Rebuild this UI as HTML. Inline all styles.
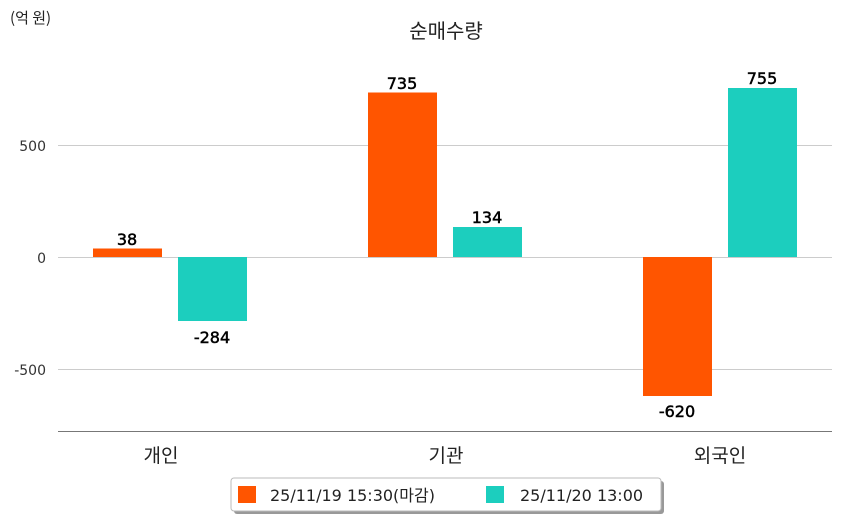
<!DOCTYPE html>
<html><head><meta charset="utf-8"><style>
html,body{margin:0;padding:0;background:#fff;}
svg{display:block;font-family:"DejaVu Sans","Noto Sans CJK KR",sans-serif;}
.k{font-family:"Noto Sans CJK KR","DejaVu Sans",sans-serif;}
</style></head><body>
<svg width="842" height="520" viewBox="0 0 842 520" xmlns="http://www.w3.org/2000/svg">
<text class="k" x="10" y="23" font-size="15" fill="#222">(억 원)</text>
<text class="k" x="446" y="38" font-size="20" fill="#222" text-anchor="middle">순매수량</text>
<g stroke="#cccccc" stroke-width="1">
<line x1="58" y1="145.5" x2="832" y2="145.5"/>
<line x1="58" y1="257.5" x2="832" y2="257.5"/>
<line x1="58" y1="369.5" x2="832" y2="369.5"/>
</g>
<line x1="58" y1="431.5" x2="832" y2="431.5" stroke="#777" stroke-width="1"/>
<g font-size="14" fill="#333" text-anchor="end">
<text x="46" y="151">500</text>
<text x="46" y="263">0</text>
<text x="46" y="375">-500</text>
</g>
<g fill="#FF5500">
<rect x="93" y="248.5" width="69" height="8.5"/>
<rect x="368" y="92.5" width="69" height="164.5"/>
<rect x="643" y="257" width="69" height="139"/>
</g>
<g fill="#1CCEBE">
<rect x="178" y="257" width="69" height="64"/>
<rect x="453" y="227" width="69" height="30"/>
<rect x="728" y="88" width="69" height="169"/>
</g>
<g font-size="16" fill="#000" text-anchor="middle" stroke="#000" stroke-width="0.5">
<text x="127" y="245">38</text>
<text x="402" y="89">735</text>
<text x="677" y="417">-620</text>
<text x="212" y="343">-284</text>
<text x="487" y="223">134</text>
<text x="762" y="84">755</text>
</g>
<g class="k" font-size="19" fill="#222" text-anchor="middle">
<text x="161" y="462">개인</text>
<text x="446" y="462">기관</text>
<text x="720" y="462">외국인</text>
</g>
<rect x="234" y="481" width="430" height="33" rx="3" fill="#999"/>
<rect x="231" y="478" width="430" height="33" rx="3" fill="#fff" stroke="#bbb"/>
<rect x="238" y="486" width="18" height="17" fill="#FF5500"/>
<text x="270" y="501" font-size="16" fill="#222">25/11/19 15:30(<tspan class="k">마감</tspan>)</text>
<rect x="486" y="486" width="18" height="17" fill="#1CCEBE"/>
<text x="520" y="501" font-size="16" fill="#222">25/11/20 13:00</text>
</svg>
</body></html>
